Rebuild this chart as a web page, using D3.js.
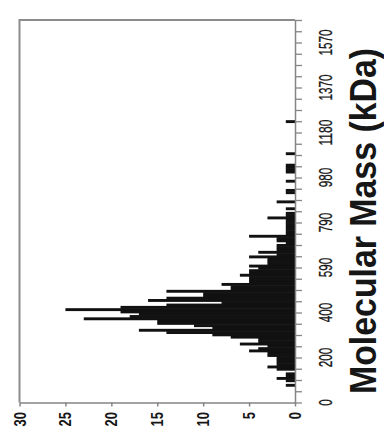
<!DOCTYPE html>
<html>
<head>
<meta charset="utf-8">
<script src="https://cdn.jsdelivr.net/npm/d3@7"></script>
<style>
  html, body { margin: 0; padding: 0; background: #fff; }
  svg { display: block; }
</style>
</head>
<body>
<svg id="chart"></svg>
<script>
// Histogram of molecular mass, drawn rotated -90deg like the source figure.
// Bin start (kDa), 10 kDa wide; only the non-empty bins are listed.
const massBins = [
  70, 90, 100, 110, 120, 140, 150, 160, 170, 180, 190,
  200, 210, 220, 230, 240, 250, 260, 270, 280, 290,
  300, 310, 320, 330, 340, 350, 360, 370, 380, 390,
  400, 410, 420, 430, 440, 450, 460, 470, 480, 490,
  500, 510, 520, 530, 540, 550, 560, 570, 580, 590,
  600, 610, 620, 630, 640, 650, 660, 670, 680, 690,
  700, 710, 720, 730, 740, 750, 760, 770, 780, 790,
  800, 810, 820, 840, 870, 910, 920, 960,
  1000, 1010, 1020, 1030, 1080, 1220
];
const counts = [
  1, 1, 2, 1, 1, 2, 3, 2, 2, 2, 2,
  3, 3, 5, 4, 3, 6, 4, 4, 7, 9,
  14, 17, 9, 11, 15, 15, 23, 18, 17, 19,
  25, 19, 14, 8, 16, 14, 10, 10, 14, 7,
  7, 8, 5, 5, 5, 6, 5, 5, 4, 5,
  3, 3, 3, 5, 2, 4, 2, 2, 2, 1,
  2, 2, 5, 1, 1, 1, 1, 1, 1, 1,
  3, 1, 1, 1, 2, 1, 1, 1,
  1, 1, 1, 1, 1, 1
];
const BIN_WIDTH = 10;

const countTicks = [0, 5, 10, 15, 20, 25, 30];
const massTickPos = [0, 196.25, 392.5, 588.75, 785, 981.25, 1177.5, 1373.75, 1570];
const massTickLabels = ['0', '200', '400', '590', '790', '980', '1180', '1370', '1570'];
const MASS_MAX = 1668.125; // two minor ticks above 1570
const MINOR_STEP = 49.0625;

const W = 384, H = 440;
const LEFT = 19.5, RIGHT = 295, TOP = 20, BOTTOM = 402.5;
const AXIS_GREY = '#858585';
const INK = '#161616';

const svg = d3.select('#chart').attr('width', W).attr('height', H);

// count runs right-to-left along the bottom, mass runs bottom-to-top on the right
const x = d3.scaleLinear().domain([0, 30]).range([RIGHT, LEFT]);
const y = d3.scaleLinear().domain([0, MASS_MAX]).range([BOTTOM, TOP]);

const bins = massBins.map((m, i) => ({ m, c: counts[i] }));

// bars (a hair of overlap so neighbouring bins read as one solid block)
svg.append('g')
  .attr('id', 'bars')
  .attr('fill', '#111')
  .selectAll('rect')
  .data(bins)
  .join('rect')
  .attr('x', (d) => x(d.c))
  .attr('width', (d) => x(0) - x(d.c))
  .attr('y', (d) => y(d.m + BIN_WIDTH) - 0.3)
  .attr('height', (d) => y(d.m) - y(d.m + BIN_WIDTH) + 0.6);

// frame (left + top)
svg.append('path')
  .attr('d', `M${LEFT},${BOTTOM} V${TOP} H${RIGHT}`)
  .attr('fill', 'none')
  .attr('stroke', '#8c8c8c')
  .attr('stroke-width', 2);

// count axis along the bottom
const countAxis = svg.append('g')
  .attr('transform', `translate(0,${BOTTOM})`)
  .call(d3.axisBottom(x).tickValues(countTicks).tickSize(4).tickSizeOuter(0));
countAxis.select('.domain').attr('stroke', AXIS_GREY).attr('stroke-width', 1.5);
countAxis.selectAll('.tick line').attr('stroke', AXIS_GREY).attr('stroke-width', 1.5);
countAxis.selectAll('.tick text')
  .attr('x', null).attr('y', null).attr('dy', null)
  .attr('transform', 'translate(0,9.5) rotate(-90)')
  .attr('text-anchor', 'end')
  .attr('dominant-baseline', 'central')
  .attr('font-family', 'Liberation Sans, Arial, sans-serif')
  .attr('font-weight', 'bold')
  .attr('font-size', 17)
  .attr('fill', INK)
  .attr('textLength', (d) => String(d).length * 7.2)
  .attr('lengthAdjust', 'spacingAndGlyphs');

// mass axis on the right: minor ticks every 49 kDa
const massAxis = svg.append('g')
  .attr('transform', `translate(${RIGHT},0)`)
  .call(d3.axisRight(y).tickValues(d3.range(0, MASS_MAX + 1, MINOR_STEP)).tickSize(7).tickSizeOuter(0).tickFormat(''));
massAxis.select('.domain').attr('stroke', AXIS_GREY).attr('stroke-width', 1.5);
massAxis.selectAll('.tick line').attr('stroke', AXIS_GREY).attr('stroke-width', 1.3);

// mass labels
svg.append('g')
  .attr('id', 'mass-labels')
  .attr('font-family', 'Liberation Sans, Arial, sans-serif')
  .attr('font-size', 18)
  .attr('fill', INK)
  .attr('stroke', INK)
  .attr('stroke-width', 0.3)
  .selectAll('text')
  .data(massTickPos)
  .join('text')
  .attr('transform', (d) => `translate(325.5,${y(d)}) rotate(-90)`)
  .attr('text-anchor', 'middle')
  .attr('dominant-baseline', 'central')
  .attr('textLength', (d, i) => massTickLabels[i].length * 6.5)
  .attr('lengthAdjust', 'spacingAndGlyphs')
  .text((d, i) => massTickLabels[i]);

// axis title
svg.append('text')
  .attr('transform', 'translate(376,221) rotate(-90)')
  .attr('text-anchor', 'middle')
  .attr('font-family', 'Liberation Sans, Arial, sans-serif')
  .attr('font-weight', 'bold')
  .attr('font-size', 37)
  .attr('fill', INK)
  .attr('textLength', 346)
  .attr('lengthAdjust', 'spacingAndGlyphs')
  .text('Molecular Mass (kDa)');
</script>
</body>
</html>
